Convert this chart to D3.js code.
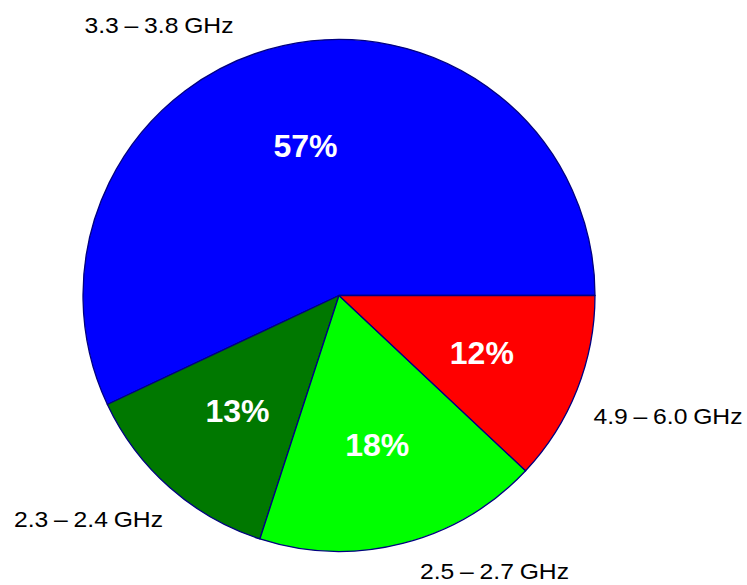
<!DOCTYPE html>
<html>
<head>
<meta charset="utf-8">
<script src="https://cdn.jsdelivr.net/npm/d3@7"></script>
<style>
  html, body { margin: 0; padding: 0; background: #fff; }
  svg { display: block; }
</style>
</head>
<body>
<svg id="chart" width="747" height="585"></svg>
<script>
// ---- data ----
const bands = ["3.3 – 3.8 GHz", "2.3 – 2.4 GHz", "2.5 – 2.7 GHz", "4.9 – 6.0 GHz"];
const shares = [57, 13, 18, 12];
const colors = ["#0000ff", "#007800", "#00ff00", "#ff0000"];

// ---- layout ----
const W = 747, H = 585;
const cx = 339, cy = 295.5, R = 256;
const svg = d3.select("#chart");
const g = svg.append("g").attr("transform", `translate(${cx},${cy})`);

const data = bands.map((b, i) => ({ band: b, value: shares[i], color: colors[i] }));

// counter-clockwise starting at 3 o'clock
const pie = d3.pie().value(d => d.value).sort(null)
  .startAngle(Math.PI / 2).endAngle(Math.PI / 2 - 2 * Math.PI);
const arcs = pie(data);
const arc = d3.arc().innerRadius(0).outerRadius(R);
const labelArc = d3.arc().innerRadius(0.6 * R).outerRadius(0.6 * R);

g.selectAll("path.slice").data(arcs).enter().append("path")
  .attr("class", "slice")
  .attr("d", arc)
  .attr("fill", d => d.data.color)
  .attr("stroke", "#000080")
  .attr("stroke-width", 1.3)
  .attr("stroke-linejoin", "round");

g.selectAll("text.pct").data(arcs).enter().append("text")
  .attr("class", "pct")
  .attr("transform", d => { const c = labelArc.centroid(d); return `translate(${c[0]},${c[1] + 11.5})`; })
  .attr("text-anchor", "middle")
  .attr("font-family", "Liberation Sans, Arial, sans-serif")
  .attr("font-weight", "bold")
  .attr("font-size", 32)
  .attr("fill", "#ffffff")
  .text(d => d.data.value + "%");

// outer category labels: offsets from the pie centre (baseline, centred)
const outerOffsets = [[-180, -262.5], [-250.5, 231], [155.5, 283.5], [329, 128.5]];
g.selectAll("text.band").data(arcs).enter().append("text")
  .attr("class", "band")
  .attr("x", (d, i) => outerOffsets[i][0])
  .attr("y", (d, i) => outerOffsets[i][1])
  .attr("text-anchor", "middle")
  .attr("font-family", "Liberation Sans, Arial, sans-serif")
  .attr("font-size", 22.5)
  .style("word-spacing", "-1px")
  .attr("fill", "#000")
  .attr("textLength", 149)
  .attr("lengthAdjust", "spacingAndGlyphs")
  .text(d => d.data.band);
</script>
</body>
</html>
